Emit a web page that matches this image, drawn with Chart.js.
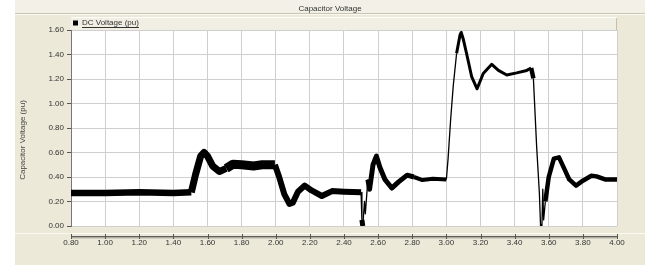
<!DOCTYPE html>
<html><head><meta charset="utf-8">
<script src="https://cdn.jsdelivr.net/npm/chart.js@4"></script>
<style>html,body{margin:0;padding:0;background:#fff;overflow:hidden}#wrap{width:649px;height:266px}</style>
</head><body><div id="wrap"><canvas id="c" width="649" height="266"></canvas></div>
<script>
const chartTitle = 'Capacitor Voltage';
const seriesLabel = 'DC Voltage (pu)';
const yAxisTitle = 'Capacitor Voltage (pu)';

const timeS = [0.80,1.00,1.20,1.40,1.505,1.53,1.56,1.58,1.60,1.63,1.67,1.71,1.75,1.80,1.87,1.92,1.995,
  2.02,2.05,2.08,2.10,2.13,2.17,2.21,2.27,2.33,2.40,2.50,
  2.505,2.51,2.52,2.525,2.54,2.55,2.57,2.59,2.61,2.64,2.68,2.72,2.77,2.81,2.86,2.92,3.00,
  3.01,3.025,3.04,3.06,3.08,3.087,3.10,3.118,3.148,3.18,3.216,3.266,3.305,3.354,3.412,3.471,3.497,
  3.51,3.529,3.545,3.552,3.56,3.565,3.57,3.58,3.60,3.63,3.66,3.69,3.72,3.76,3.80,3.85,3.88,3.93,4.00];
const voltagePu = [0.27,0.27,0.275,0.27,0.275,0.42,0.57,0.60,0.57,0.49,0.445,0.47,0.505,0.50,0.49,0.50,0.50,
  0.40,0.26,0.18,0.19,0.28,0.33,0.29,0.245,0.285,0.28,0.275,
  0.05,0.00,0.20,0.10,0.38,0.30,0.50,0.57,0.48,0.38,0.31,0.36,0.415,0.40,0.375,0.385,0.38,
  0.55,0.87,1.14,1.41,1.56,1.58,1.52,1.41,1.22,1.12,1.245,1.32,1.27,1.233,1.25,1.27,1.29,
  1.205,0.65,0.27,0.00,0.00,0.30,0.05,0.20,0.40,0.55,0.56,0.47,0.38,0.33,0.37,0.41,0.405,0.38,0.38];

const xTickValues = [0.8,1.0,1.2,1.4,1.6,1.8,2.0,2.2,2.4,2.6,2.8,3.0,3.2,3.4,3.6,3.8,4.0];
const xTickLabels = ['0.80','1.00','1.20','1.40','1.60','1.80','2.00','2.20','2.40','2.60','2.80','3.00','3.20','3.40','3.60','3.80','4.00'];
const yTickValues = [0,0.2,0.4,0.6,0.8,1.0,1.2,1.4,1.6];
const yTickLabels = ['0.00','0.20','0.40','0.60','0.80','1.00','1.20','1.40','1.60'];

const FONT = "'Liberation Sans', Arial, sans-serif";
const PANEL = '#ECE9D8';

function fixHeight(box, h) {
  if (!box || box._fixed || typeof box.update !== 'function') return;
  const u = box.update.bind(box);
  box.update = function() { const r = u.apply(null, arguments); this.height = h; return r; };
  box._fixed = true;
}

const framePlugin = {
  id: 'frame',
  beforeLayout(chart) {
    fixHeight(chart.legend, 16);
    fixHeight(chart.titleBlock, 14);
  },
  afterLayout(chart) {
    const tb = chart.titleBlock; if (tb) { tb.left = 15; tb.right = 645; tb.width = 630; }
    const lg = chart.legend; if (lg) { lg.left = chart.chartArea.left - 3; }
  },
  beforeDraw(chart) {
    const ctx = chart.ctx, a = chart.chartArea;
    ctx.save();
    ctx.fillStyle = '#ffffff'; ctx.fillRect(0, 0, 649, 266);
    ctx.fillStyle = PANEL; ctx.fillRect(15, 0, 630, 265);
    ctx.fillStyle = '#F3F1E7'; ctx.fillRect(15, 0, 630, 13);
    ctx.fillStyle = '#C9C5B3'; ctx.fillRect(15, 13, 630, 1);
    ctx.fillStyle = '#FBFAF4'; ctx.fillRect(15, 14, 630, 1);
    ctx.fillStyle = '#F1EFE3'; ctx.fillRect(a.left, 17, a.right - a.left, a.top - 17);
    ctx.fillStyle = '#C4C0AD'; ctx.fillRect(a.right - 1, 17, 1, a.top - 17);
    ctx.fillStyle = '#FFFFFF'; ctx.fillRect(a.left, 17, a.right - a.left, 1);
    ctx.fillStyle = '#ffffff'; ctx.fillRect(a.left, a.top, a.right - a.left, a.bottom - a.top);
    ctx.fillStyle = '#FAF9F2'; ctx.fillRect(15, a.bottom + 7, 630, 1);
    ctx.restore();
  },
  afterDraw(chart) {
    const ctx = chart.ctx, a = chart.chartArea, xs = chart.scales.x;
    ctx.save();
    const yLine = a.bottom + 10;
    ctx.fillStyle = '#5E5E5E'; ctx.fillRect(a.left, yLine, a.right - a.left + 1, 1.5);
    ctx.fillStyle = '#B8B4A4'; ctx.fillRect(a.left, yLine + 1.5, a.right - a.left + 1, 1);
    ctx.strokeStyle = '#555'; ctx.lineWidth = 1;
    xs.ticks.forEach((t, i) => {
      const px = Math.round(xs.getPixelForTick(i)) + 0.5;
      ctx.beginPath(); ctx.moveTo(px, yLine - 2); ctx.lineTo(px, yLine + 3); ctx.stroke();
    });
    ctx.fillStyle = '#444';
    ctx.font = '8px ' + FONT;
    ctx.textAlign = 'center'; ctx.textBaseline = 'middle';
    ctx.translate(23, (a.top + a.bottom) / 2 + 12);
    ctx.rotate(-Math.PI / 2);
    ctx.fillText(yAxisTitle, 0, 0);
    ctx.restore();
    const lg = chart.legend;
    if (lg && lg.legendHitBoxes && lg.legendHitBoxes[0]) {
      const hb = lg.legendHitBoxes[0];
      ctx.save();
      ctx.font = '8px ' + FONT;
      const tx = hb.left + 5 + 4;
      const w = ctx.measureText(seriesLabel).width;
      ctx.fillStyle = '#333';
      ctx.fillRect(tx, hb.top + 8, w, 1);
      ctx.restore();
    }
  }
};

function segWidth(c) {
  const x0 = c.p0.parsed.x, x1 = c.p1.parsed.x, y0 = c.p0.parsed.y, y1 = c.p1.parsed.y;
  const slope = Math.abs((y1 - y0) / (x1 - x0));
  if (slope > 12) return 1.3;
  const xm = (x0 + x1) / 2;
  if (xm < 1.5) return 6.5;
  if (xm < 1.7) return 7;
  if (xm < 2.0) return 9;
  if (xm < 2.5) return 6;
  if (xm < 2.8) return 5;
  if (xm < 3.05) return 4;
  if (xm < 3.5) return 3;
  return 4.5;
}

new Chart(document.getElementById('c'), {
  type: 'line',
  data: {
    datasets: [{
      label: seriesLabel,
      data: timeS.map((t, i) => ({ x: t, y: voltagePu[i] })),
      borderColor: '#000',
      backgroundColor: '#000',
      borderWidth: 3,
      pointRadius: 0,
      tension: 0,
      borderJoinStyle: 'round',
      segment: { borderWidth: segWidth }
    }]
  },
  options: {
    responsive: false,
    animation: false,
    devicePixelRatio: 1,
    layout: { padding: { left: 15, right: 32, top: 0, bottom: 0 } },
    plugins: {
      title: { display: true, text: chartTitle, color: '#333', font: { family: FONT, size: 8, weight: 'normal' }, padding: { top: 4, bottom: 1 } },
      legend: { display: true, position: 'top', align: 'start',
        labels: { color: '#333', font: { family: FONT, size: 8 }, boxWidth: 5, boxHeight: 5, padding: 5,
          generateLabels: (chart) => Chart.defaults.plugins.legend.labels.generateLabels(chart).map(l => Object.assign(l, { lineWidth: 0 })) } },
      tooltip: { enabled: false }
    },
    scales: {
      x: {
        type: 'linear', min: 0.8, max: 4.0,
        afterBuildTicks: s => { s.ticks = xTickValues.map(v => ({ value: v })); },
        afterFit: s => { s.height = 40; },
        ticks: { autoSkip: false, maxRotation: 0, padding: 2, color: '#333', font: { family: FONT, size: 8 },
          callback: (v, i) => xTickLabels[i] },
        grid: { color: '#CFCFCF', lineWidth: 1, tickLength: 10, tickColor: 'rgba(0,0,0,0)' },
        border: { display: false }
      },
      y: {
        min: 0, max: 1.6,
        afterBuildTicks: s => { s.ticks = yTickValues.map(v => ({ value: v })); },
        afterFit: s => { s.width = 56; },
        ticks: { padding: 3, color: '#333', font: { family: FONT, size: 8 }, callback: (v, i) => yTickLabels[i] },
        grid: { color: '#CFCFCF', lineWidth: 1, tickLength: 4, tickColor: '#555' },
        border: { display: true, color: '#777', width: 1 }
      }
    }
  },
  plugins: [framePlugin]
});
</script></body></html>
